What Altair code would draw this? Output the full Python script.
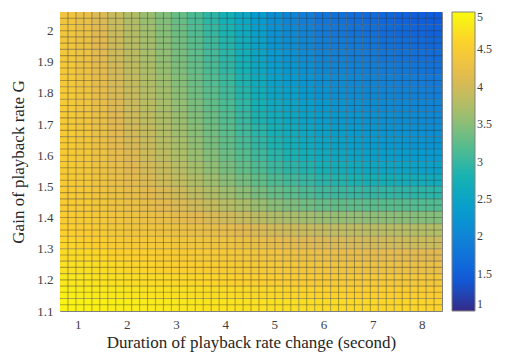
import altair as alt
import pandas as pd
import numpy as np

# Axis extents of the heat map (data units)
duration_min, duration_max = 0.64, 8.41
gain_min, gain_max = 1.1, 2.06

# Read-off cell values, rows from top (G ~ 2.04) to bottom (G ~ 1.12), 24 x 24 blocks
score = [
    [4.35, 4.23, 4.07, 3.91, 3.75, 3.60, 3.46, 3.30, 3.13, 2.94, 2.76, 2.55, 2.33, 2.13, 2.01, 1.90, 1.78, 1.74, 1.69, 1.64, 1.59, 1.54, 1.49, 1.44],
    [4.37, 4.26, 4.10, 3.94, 3.78, 3.64, 3.49, 3.34, 3.17, 3.00, 2.82, 2.61, 2.40, 2.19, 2.08, 1.97, 1.85, 1.81, 1.76, 1.71, 1.66, 1.62, 1.57, 1.53],
    [4.39, 4.28, 4.12, 3.96, 3.81, 3.67, 3.52, 3.38, 3.22, 3.05, 2.88, 2.67, 2.45, 2.24, 2.13, 2.03, 1.92, 1.88, 1.83, 1.78, 1.73, 1.69, 1.64, 1.60],
    [4.40, 4.29, 4.13, 3.98, 3.83, 3.69, 3.55, 3.41, 3.25, 3.09, 2.93, 2.72, 2.51, 2.30, 2.19, 2.09, 1.98, 1.94, 1.89, 1.85, 1.80, 1.76, 1.71, 1.67],
    [4.42, 4.31, 4.16, 4.01, 3.86, 3.72, 3.58, 3.44, 3.29, 3.13, 2.97, 2.77, 2.57, 2.37, 2.26, 2.16, 2.05, 2.01, 1.96, 1.92, 1.88, 1.83, 1.79, 1.75],
    [4.43, 4.32, 4.18, 4.03, 3.89, 3.75, 3.62, 3.48, 3.33, 3.18, 3.03, 2.83, 2.63, 2.44, 2.34, 2.24, 2.13, 2.09, 2.04, 1.99, 1.95, 1.91, 1.87, 1.83],
    [4.45, 4.34, 4.20, 4.05, 3.91, 3.78, 3.65, 3.52, 3.37, 3.23, 3.08, 2.89, 2.69, 2.51, 2.41, 2.31, 2.20, 2.15, 2.10, 2.05, 2.01, 1.97, 1.94, 1.90],
    [4.45, 4.35, 4.22, 4.08, 3.94, 3.82, 3.69, 3.56, 3.42, 3.27, 3.13, 2.95, 2.76, 2.59, 2.49, 2.39, 2.28, 2.23, 2.17, 2.12, 2.08, 2.05, 2.02, 1.99],
    [4.46, 4.37, 4.24, 4.10, 3.97, 3.85, 3.73, 3.60, 3.46, 3.32, 3.18, 3.01, 2.83, 2.67, 2.57, 2.47, 2.36, 2.31, 2.25, 2.19, 2.15, 2.12, 2.09, 2.06],
    [4.47, 4.38, 4.25, 4.13, 4.00, 3.89, 3.77, 3.64, 3.51, 3.37, 3.23, 3.07, 2.91, 2.75, 2.65, 2.55, 2.44, 2.38, 2.32, 2.26, 2.22, 2.19, 2.16, 2.13],
    [4.48, 4.39, 4.27, 4.16, 4.03, 3.92, 3.80, 3.68, 3.55, 3.41, 3.27, 3.12, 2.97, 2.82, 2.72, 2.62, 2.52, 2.46, 2.39, 2.33, 2.29, 2.26, 2.23, 2.20],
    [4.48, 4.41, 4.30, 4.19, 4.08, 3.96, 3.85, 3.73, 3.60, 3.47, 3.33, 3.19, 3.05, 2.91, 2.81, 2.72, 2.62, 2.56, 2.49, 2.43, 2.39, 2.36, 2.33, 2.30],
    [4.48, 4.41, 4.31, 4.21, 4.11, 4.01, 3.91, 3.80, 3.67, 3.54, 3.41, 3.28, 3.15, 3.02, 2.93, 2.85, 2.76, 2.70, 2.63, 2.57, 2.53, 2.50, 2.47, 2.44],
    [4.48, 4.42, 4.33, 4.24, 4.15, 4.06, 3.97, 3.87, 3.75, 3.63, 3.51, 3.39, 3.27, 3.15, 3.07, 2.99, 2.90, 2.86, 2.81, 2.76, 2.73, 2.70, 2.68, 2.65],
    [4.47, 4.42, 4.35, 4.28, 4.21, 4.13, 4.05, 3.96, 3.85, 3.74, 3.63, 3.52, 3.41, 3.30, 3.22, 3.14, 3.05, 3.02, 2.99, 2.97, 2.95, 2.94, 2.92, 2.91],
    [4.49, 4.45, 4.39, 4.33, 4.27, 4.20, 4.14, 4.06, 3.98, 3.89, 3.80, 3.70, 3.60, 3.50, 3.43, 3.36, 3.29, 3.27, 3.25, 3.22, 3.21, 3.20, 3.18, 3.17],
    [4.52, 4.48, 4.42, 4.37, 4.32, 4.27, 4.23, 4.18, 4.12, 4.05, 3.99, 3.91, 3.83, 3.75, 3.70, 3.65, 3.60, 3.58, 3.56, 3.53, 3.52, 3.50, 3.48, 3.47],
    [4.56, 4.52, 4.46, 4.41, 4.36, 4.34, 4.31, 4.28, 4.25, 4.21, 4.17, 4.12, 4.06, 4.00, 3.96, 3.93, 3.89, 3.87, 3.85, 3.82, 3.81, 3.79, 3.77, 3.76],
    [4.61, 4.58, 4.54, 4.50, 4.46, 4.44, 4.42, 4.39, 4.37, 4.34, 4.32, 4.28, 4.24, 4.20, 4.16, 4.11, 4.07, 4.05, 4.03, 4.00, 3.99, 3.97, 3.95, 3.94],
    [4.67, 4.65, 4.62, 4.58, 4.55, 4.53, 4.50, 4.48, 4.46, 4.44, 4.42, 4.40, 4.37, 4.35, 4.31, 4.28, 4.24, 4.22, 4.20, 4.18, 4.17, 4.15, 4.13, 4.12],
    [4.74, 4.72, 4.69, 4.66, 4.63, 4.61, 4.58, 4.56, 4.54, 4.52, 4.50, 4.48, 4.46, 4.44, 4.42, 4.39, 4.37, 4.35, 4.33, 4.31, 4.30, 4.29, 4.27, 4.26],
    [4.80, 4.78, 4.75, 4.73, 4.70, 4.68, 4.67, 4.65, 4.63, 4.61, 4.59, 4.57, 4.56, 4.54, 4.52, 4.50, 4.48, 4.47, 4.46, 4.45, 4.44, 4.43, 4.42, 4.41],
    [4.86, 4.84, 4.82, 4.80, 4.78, 4.76, 4.75, 4.73, 4.71, 4.69, 4.68, 4.67, 4.65, 4.64, 4.63, 4.61, 4.60, 4.59, 4.57, 4.56, 4.55, 4.54, 4.53, 4.52],
    [4.92, 4.90, 4.89, 4.87, 4.86, 4.84, 4.82, 4.81, 4.79, 4.77, 4.76, 4.75, 4.74, 4.73, 4.72, 4.70, 4.69, 4.68, 4.66, 4.64, 4.63, 4.62, 4.61, 4.60],
]

x_ticks = [1, 2, 3, 4, 5, 6, 7, 8]
y_ticks = [1.1, 1.2, 1.3, 1.4, 1.5, 1.6, 1.7, 1.8, 1.9, 2.0]
cbar_ticks = [1, 1.5, 2, 2.5, 3, 3.5, 4, 4.5, 5]

parula = ["#352a87", "#0f5cdd", "#127dd8", "#079ccf", "#15b1b4",
          "#59bd8c", "#a5be6b", "#e1b952", "#fcce2e", "#f9fb0e"]
parula_domain = [float(v) for v in np.linspace(1, 5, len(parula))]

n_rows = len(score)
n_cols = len(score[0])
x_edges = np.linspace(duration_min, duration_max, n_cols + 1)
y_edges = np.linspace(gain_min, gain_max, n_rows + 1)

records = []
for r, row in enumerate(score):
    ri = n_rows - 1 - r  # index from bottom
    for c, v in enumerate(row):
        records.append({"d0": float(x_edges[c]), "d1": float(x_edges[c + 1]),
                        "g0": float(y_edges[ri]), "g1": float(y_edges[ri + 1]), "v": v})
cells = pd.DataFrame(records)

fine_x = pd.DataFrame({"d0": np.linspace(duration_min, duration_max, 2 * n_cols + 1)[1:-1]})
fine_y = pd.DataFrame({"g0": np.linspace(gain_min, gain_max, 2 * n_rows + 1)[1:-1]})

xscale = alt.Scale(domain=[duration_min, duration_max], nice=False, zero=False)
yscale = alt.Scale(domain=[gain_min, gain_max], nice=False, zero=False)
cscale = alt.Scale(type="linear", domain=parula_domain, range=parula, interpolate="rgb")

serif = "Liberation Serif"

x_axis = alt.Axis(values=x_ticks, labelExpr="format(datum.value, 'd')", labelOverlap=False,
                  title="Duration of playback rate change (second)")
y_axis = alt.Axis(values=y_ticks, labelExpr="format(datum.value, '~g')", labelOverlap=False,
                  title="Gain of playback rate G")

rects = alt.Chart(cells).mark_rect().encode(
    x=alt.X("d0:Q", scale=xscale, axis=x_axis),
    x2="d1:Q",
    y=alt.Y("g0:Q", scale=yscale, axis=y_axis),
    y2="g1:Q",
    color=alt.Color("v:Q", scale=cscale,
                    legend=alt.Legend(type="gradient", values=cbar_ticks,
                                      labelExpr="format(datum.value, '~g')", title=None,
                                      gradientLength=299, gradientThickness=23,
                                      offset=10, labelFont=serif, labelFontSize=12,
                                      labelColor="#404040", gradientStrokeColor="#808080",
                                      gradientStrokeWidth=1, labelOffset=2, labelOverlap=False)),
)

vlines = alt.Chart(fine_x).mark_rule(color="#303030", opacity=0.38, strokeWidth=1.1).encode(
    x=alt.X("d0:Q", scale=xscale, axis=x_axis)
)
hlines = alt.Chart(fine_y).mark_rule(color="#303030", opacity=0.38, strokeWidth=1.1).encode(
    y=alt.Y("g0:Q", scale=yscale, axis=y_axis)
)

chart = alt.layer(rects, vlines, hlines).properties(
    width=382, height=299,
    autosize=alt.AutoSizeParams(type="none"),
    padding={"left": 52, "top": 4, "right": 56, "bottom": 42},
).configure_view(stroke="#808080", strokeWidth=1).configure_axis(
    ticks=False, domain=False, grid=False, labelOverlap=False,
    labelFont=serif, labelFontSize=13, labelColor="#404040",
    titleFont=serif, titleFontSize=17, titleColor="#262626", titleFontWeight="normal",
    labelPadding=7,
).configure_axisX(titlePadding=3).configure_axisY(titlePadding=9)

chart.save("out.html", embed_options={"renderer": "svg", "actions": False})
